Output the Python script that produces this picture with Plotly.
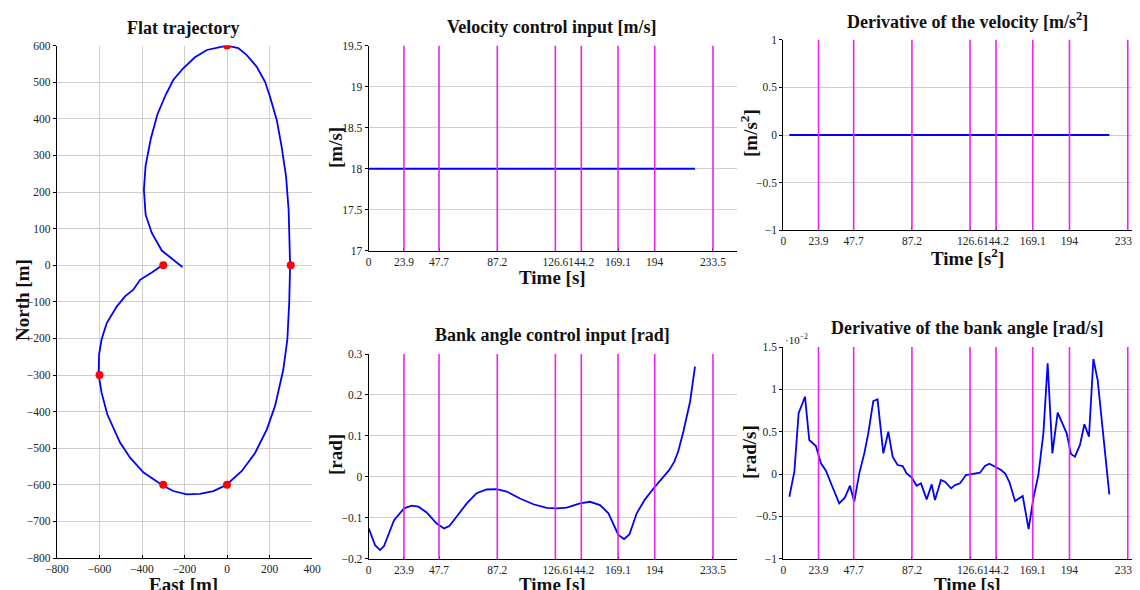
import plotly.graph_objects as go

# ---------------- data ----------------
traj_east = [-288, -304, -354, -409, -441, -480, -519, -566, -590, -602, -604, -590, -563, -504, -456, -394,
             -304, -253, -190, -127, -64, -5, 69, 132, 187, 226, 265, 284, 293, 297, 290, 278, 257, 234,
             202, 179, 140, 93, 53, 0, -95, -151, -206, -253, -289, -328, -358, -383, -391, -383, -354,
             -307, -210]
traj_north = [8, 0, -20, -40, -67, -85, -113, -158, -202, -244, -300, -349, -408, -484, -526, -566,
              -601, -617, -626, -625, -617, -601, -563, -513, -449, -385, -285, -203, -100, 0, 151, 242,
              324, 397, 461, 501, 542, 574, 593, 600, 588, 568, 538, 506, 465, 411, 347, 272, 206, 138,
              88, 40, -5]
wp_east = [-300, -600, -300, 0, 300, 0]
wp_north = [0, -300, -600, -600, 0, 600]

event_times = [23.9, 47.7, 87.2, 126.6, 144.2, 169.1, 194, 233.5]
time_ticks = [0, 23.9, 47.7, 87.2, 126.6, 144.2, 169.1, 194, 233.5]
time_tick_text = ["0", "23.9", "47.7", "87.2", "126.6", "144.2", "169.1", "194", "233.5"]

vel_t = [0, 221.3]
vel_v = [18, 18]

dvel_t = [4.1, 221.0]
dvel_v = [0, 0]

bank_t = [0, 4.3, 7.7, 10.4, 17.2, 24, 29.2, 33.7, 39.3, 46.1, 51.1, 54.7, 59.7, 66.5, 73.2, 80, 86.8,
          93.6, 102.6, 111.7, 120.7, 127.5, 134.3, 143.3, 150.1, 156.9, 162.6, 169.3, 173.2, 176.8,
          181.8, 187.4, 193.7, 198.7, 203.9, 207.3, 210, 213.4, 218, 221.3]
bank_v = [-0.126, -0.167, -0.179, -0.169, -0.106, -0.077, -0.0705, -0.073, -0.087, -0.114, -0.126,
          -0.120, -0.097, -0.065, -0.040, -0.031, -0.030, -0.036, -0.053, -0.067, -0.076, -0.077,
          -0.075, -0.065, -0.061, -0.069, -0.089, -0.142, -0.152, -0.141, -0.089, -0.055, -0.026,
          -0.005, 0.017, 0.037, 0.063, 0.110, 0.184, 0.269]

dbank_t = [4.1, 7.5, 10.4, 14.7, 17.6, 22.1, 25.5, 28.9, 32.8, 37.9, 41.8, 45.2, 48.1, 51.5, 54.9,
           57.6, 61, 63.9, 67.8, 71.2, 74.1, 77.5, 80.9, 83.6, 87, 90.4, 93.3, 97.2, 100.6, 102.8,
           106.9, 109.6, 113.7, 116.4, 119.8, 123.8, 126.6, 133.3, 136.7, 139.7, 144.2, 147.6, 150.3,
           153.2, 157.1, 162.3, 166.3, 169.5, 172.9, 176.3, 179.2, 182.4, 186, 189.4, 192.1, 195,
           197.7, 201.1, 204.1, 207.2, 210.2, 213.1, 215.8, 221]
dbank_v = [-0.00268, 0.00028, 0.00717, 0.00913, 0.00402, 0.00331, 0.00126, 0.00039, -0.00130,
           -0.00346, -0.00276, -0.00138, -0.00327, 0.00008, 0.00244, 0.00480, 0.00862, 0.00882,
           0.00244, 0.00500, 0.00205, 0.00106, 0.00094, 0.00008, -0.00043, -0.00138, -0.00110,
           -0.00299, -0.00122, -0.00307, -0.00071, -0.00091, -0.00169, -0.00130, -0.00110, -0.00012,
           -0.00004, 0.00016, 0.00094, 0.00122, 0.00079, 0.00047, 0.00008, -0.00091, -0.00319,
           -0.00260, -0.00650, -0.00287, -0.00012, 0.00480, 0.01307, 0.00244, 0.00724, 0.00598,
           0.00480, 0.00236, 0.00205, 0.00343, 0.00587, 0.00441, 0.01358, 0.01110, 0.00638, -0.00240]

# ---------------- styling ----------------
FONT = "Liberation Serif"
OFF = 8  # default page body margin
W, H = 1140 - OFF, 590 - OFF
BLUE = "#0000ff"
MAG = "#ee22ee"
GRID = "#cfcfcf"
TICKC = "#222222"


def px(x):
    return (x - OFF) / W


def py(y):
    return 1 - (y - OFF) / H


fig = go.Figure()

# panel 1: trajectory
fig.add_trace(go.Scatter(x=traj_east, y=traj_north, mode="lines", line=dict(color=BLUE, width=1.8),
                         xaxis="x", yaxis="y", showlegend=False))
fig.add_trace(go.Scatter(x=wp_east, y=wp_north, mode="markers", marker=dict(color="#ff0000", size=8),
                         xaxis="x", yaxis="y", showlegend=False))

# panel 2: velocity
fig.add_trace(go.Scatter(x=vel_t, y=vel_v, mode="lines", line=dict(color=BLUE, width=2),
                         xaxis="x2", yaxis="y2", showlegend=False))
# panel 3: bank angle
fig.add_trace(go.Scatter(x=bank_t, y=bank_v, mode="lines", line=dict(color=BLUE, width=1.8),
                         xaxis="x3", yaxis="y3", showlegend=False))
# panel 4: derivative velocity
fig.add_trace(go.Scatter(x=dvel_t, y=dvel_v, mode="lines", line=dict(color=BLUE, width=2),
                         xaxis="x4", yaxis="y4", showlegend=False))
# panel 5: derivative bank
fig.add_trace(go.Scatter(x=dbank_t, y=dbank_v, mode="lines", line=dict(color=BLUE, width=1.8),
                         xaxis="x5", yaxis="y5", showlegend=False))

tickfont = dict(family=FONT, size=11.5, color=TICKC)
common_axis = dict(showline=True, linecolor="black", linewidth=1.2, ticks="outside", ticklen=3,
                   tickcolor="black", tickfont=tickfont, zeroline=False, mirror=False,
                   automargin=False, tickangle=0)
x_axis_base = dict(common_axis, ticks="inside", ticklen=3, ticklabeloverflow="allow")

layout_axes = {}
# panel 1
layout_axes["xaxis"] = dict(x_axis_base, domain=[px(57), px(312)], range=[-800, 400],
                            tickvals=[-800, -600, -400, -200, 0, 200, 400], showgrid=True,
                            gridcolor=GRID, anchor="y")
layout_axes["yaxis"] = dict(common_axis, domain=[py(558), py(45.6)], range=[-800, 600],
                            tickvals=list(range(-800, 601, 100)), showgrid=True, gridcolor=GRID,
                            anchor="x")
# time axes
time_x = dict(x_axis_base, tickvals=time_ticks, ticktext=time_tick_text, showgrid=False)
layout_axes["xaxis2"] = dict(time_x, domain=[px(368.7), px(737)], range=[0, 249.8], anchor="y2")
layout_axes["yaxis2"] = dict(common_axis, domain=[py(250.7), py(45.7)], range=[17, 19.5],
                             tickvals=[17, 17.5, 18, 18.5, 19, 19.5],
                             ticktext=["17", "17.5", "18", "18.5", "19", "19.5"],
                             showgrid=True, gridcolor=GRID, anchor="x2")
layout_axes["xaxis3"] = dict(time_x, domain=[px(368.7), px(737)], range=[0, 249.8], anchor="y3")
layout_axes["yaxis3"] = dict(common_axis, domain=[py(558.7), py(354)], range=[-0.2, 0.3],
                             tickvals=[-0.2, -0.1, 0, 0.1, 0.2, 0.3],
                             ticktext=["\u22120.2", "\u22120.1", "0", "0.1", "0.2", "0.3"],
                             showgrid=True, gridcolor=GRID, anchor="x3")
layout_axes["xaxis4"] = dict(time_x, domain=[px(783.3), 1.0], range=[0, 241.8], anchor="y4")
layout_axes["yaxis4"] = dict(common_axis, domain=[py(230.3), py(39.7)], range=[-1, 1],
                             tickvals=[-1, -0.5, 0, 0.5, 1],
                             ticktext=["\u22121", "\u22120.5", "0", "0.5", "1"],
                             showgrid=True, gridcolor=GRID, anchor="x4")
layout_axes["xaxis5"] = dict(time_x, domain=[px(783.3), 1.0], range=[0, 241.8], anchor="y5")
layout_axes["yaxis5"] = dict(common_axis, domain=[py(558.7), py(347)], range=[-0.01, 0.015],
                             tickvals=[-0.01, -0.005, 0, 0.005, 0.01, 0.015],
                             ticktext=["\u22121", "\u22120.5", "0", "0.5", "1", "1.5"],
                             showgrid=True, gridcolor=GRID, anchor="x5")

shapes = []
for k in ["2", "3", "4", "5"]:
    for t in event_times:
        shapes.append(dict(type="line", xref="x" + k, yref="y" + k + " domain", x0=t, x1=t, y0=0, y1=1,
                           line=dict(color=MAG, width=1.6), layer="above"))

annotations = []


def text(x, y, s, size, bold=True, angle=0):
    annotations.append(dict(x=px(x), y=py(y), xref="paper", yref="paper", text=("<b>%s</b>" % s) if bold else s,
                            showarrow=False, textangle=angle, xanchor="center", yanchor="middle",
                            font=dict(family=FONT, size=size, color="#111111")))


# titles
TS = 18
text(183, 28, "Flat trajectory", TS)
text(552, 27, "Velocity control input [m/s]", TS)
text(967, 20, "Derivative of the velocity [m/s<sup>2</sup>]", TS)
text(552, 335, "Bank angle control input [rad]", TS)
text(967, 328, "Derivative of the bank angle [rad/s]", TS)
# axis labels
LS = 19
text(183, 584, "East [m]", LS)
text(22, 300, "North [m]", LS, angle=-90)
text(552, 277, "Time [s]", LS)
text(335, 148, "[m/s]", LS, angle=-90)
text(552, 584, "Time [s]", LS)
text(335, 455, "[rad]", LS, angle=-90)
text(967, 257, "Time [s<sup>2</sup>]", LS)
text(749, 133, "[m/s<sup>2</sup>]", LS, angle=-90)
text(967, 584, "Time [s]", LS)
text(749, 452, "[rad/s]", LS, angle=-90)
text(796, 339, "\u00b710<sup>\u22122</sup>", 11, bold=False)

fig.update_layout(width=W, height=H, autosize=False, margin=dict(l=0, r=0, t=0, b=0),
                  paper_bgcolor="white", plot_bgcolor="white", showlegend=False,
                  shapes=shapes, annotations=annotations, **layout_axes)

fig.write_html("out.html")
